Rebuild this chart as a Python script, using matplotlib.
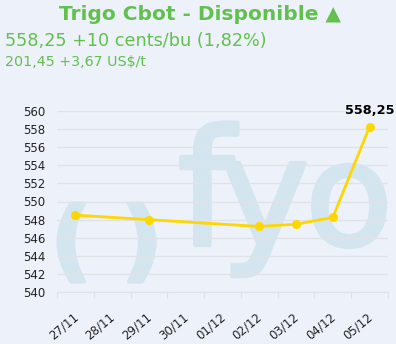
import matplotlib
matplotlib.use("Agg")
import matplotlib.pyplot as plt
import matplotlib.transforms as mtransforms
import matplotlib.patheffects as pe
import numpy as np

# Daily quotes (cents/bu); None = no session
dates = ["27/11", "28/11", "29/11", "30/11", "01/12", "02/12", "03/12", "04/12", "05/12"]
prices = [548.5, None, 548.0, None, None, 547.25, 547.5, 548.25, 558.25]
last_label = "558,25"
yticks = list(range(540, 561, 2))

title = "Trigo Cbot - Disponible \u25B2"
line_price = "558,25 +10 cents/bu (1,82%)"
line_ton = "201,45 +3,67 US$/t"

BG = "#edf1f9"
GREEN = "#62c04e"
GOLD = "#ffd700"
WATER = "#d3e5ef"
GRID = "#dfe2e6"
TXT = "#222222"

W, H = 396, 344
fig = plt.figure(figsize=(W / 100, H / 100), dpi=100, facecolor=BG)

def px(x, y):
    return x / W, 1 - y / H

# Background logo layer
bg = fig.add_axes([0, 0, 1, 1], zorder=-1)
bg.set_xlim(0, W)
bg.set_ylim(H, 0)
bg.axis("off")
thick = [pe.withStroke(linewidth=3, foreground=WATER)]
for ch, xc in [("(", 71), (")", 142)]:
    bg.text(xc, 270, ch, ha="center", va="baseline", fontsize=63, fontweight="bold",
            color=WATER, family="DejaVu Sans", path_effects=thick)
for ch, xc, fs in [("f", 206, 116), ("y", 265, 108), ("o", 349, 103)]:
    bg.text(xc, 245, ch, ha="center", va="baseline", fontsize=fs,
            color=WATER, family="DejaVu Sans", path_effects=thick)

# Header texts
fig.text(*px(200, 15), title, ha="center", va="center", fontsize=14.5,
         fontweight="bold", color=GREEN, family="DejaVu Sans")
fig.text(*px(5, 41), line_price, ha="left", va="center", fontsize=12.7,
         color=GREEN, family="DejaVu Sans")
fig.text(*px(5, 62), line_ton, ha="left", va="center", fontsize=10.3,
         color=GREEN, family="DejaVu Sans")

# Plot area
left, right = 57, 388
top, bottom = 110.7, 292.3
ax = fig.add_axes([left / W, 1 - bottom / H, (right - left) / W, (bottom - top) / H])
ax.patch.set_alpha(0)

n = len(dates)
xs = np.arange(n)
mask = [p is not None for p in prices]
xv = xs[mask]
yv = np.array([p for p in prices if p is not None])

ax.plot(xv, yv, color=GOLD, lw=2.0, marker="o", ms=5.5, zorder=3,
        solid_joinstyle="round")
ax.annotate(last_label, (xv[-1], yv[-1]), xytext=(0, 7), textcoords="offset points",
            ha="center", va="bottom", fontsize=9.3, fontweight="bold", color="black",
            family="DejaVu Sans", annotation_clip=False)

ax.set_xlim(-0.5, n - 0.5)
ax.set_ylim(540, 560)
ax.set_yticks(yticks)
ax.set_yticklabels([str(t) for t in yticks])
ax.yaxis.grid(True, color=GRID, lw=1)
ax.set_axisbelow(True)
for s in ["top", "right", "left"]:
    ax.spines[s].set_visible(False)
ax.spines["bottom"].set_color(GRID)
ax.tick_params(axis="y", length=0, pad=8.5, labelsize=8.5, labelcolor=TXT)

# Category ticks at band boundaries, labels at band centers
ax.set_xticks(np.arange(-0.5, n, 1.0))
ax.set_xticklabels([])
ax.tick_params(axis="x", which="major", length=4, color=GRID, direction="out")
ax.set_xticks(xs, minor=True)
ax.set_xticklabels(dates, minor=True, rotation=40, ha="right", va="top",
                   rotation_mode="anchor", fontsize=8.5, color=TXT)
ax.tick_params(axis="x", which="minor", length=0, pad=13)
offset = mtransforms.ScaledTranslation(-3 / 100, 0, fig.dpi_scale_trans)
for lbl in ax.get_xticklabels(minor=True):
    lbl.set_transform(lbl.get_transform() + offset)

fig.savefig("out.png", dpi=100, facecolor=BG)
